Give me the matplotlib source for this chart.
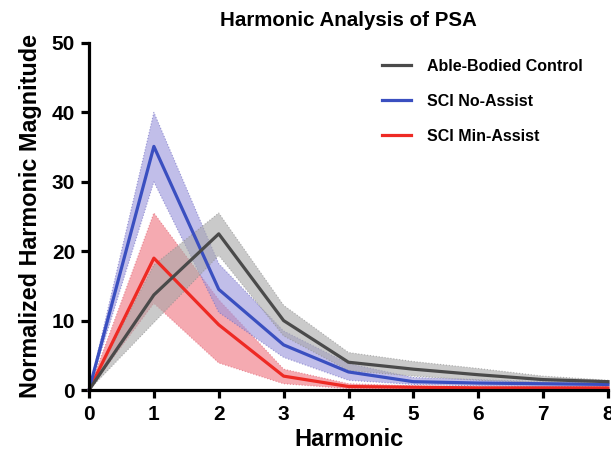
import numpy as np
import matplotlib
matplotlib.use('Agg')
import matplotlib.pyplot as plt

plt.rcParams['font.family'] = ['Liberation Sans', 'DejaVu Sans']
plt.rcParams['font.weight'] = 'bold'

harmonic = [0, 1, 2, 3, 4, 5, 6, 7, 8]

# Able-bodied control
ctrl_mean = [0, 13.7, 22.5, 10.0, 4.0, 3.0, 2.2, 1.5, 1.2]
ctrl_hi = [0, 18.0, 25.5, 12.2, 5.4, 4.1, 3.1, 2.0, 1.4]
ctrl_lo = [0, 9.7, 19.4, 7.8, 2.8, 2.0, 1.4, 1.0, 0.9]

# SCI no-assist
noas_mean = [0, 35.1, 14.5, 6.5, 2.6, 1.2, 1.0, 0.9, 0.8]
noas_hi = [0, 40.0, 18.2, 8.5, 3.8, 1.8, 1.5, 1.2, 1.0]
noas_lo = [0, 30.0, 11.2, 4.7, 1.4, 0.8, 0.6, 0.5, 0.5]

# SCI min-assist
min_mean = [0, 19.0, 9.4, 2.0, 0.5, 0.4, 0.3, 0.3, 0.3]
min_hi = [0, 25.5, 13.0, 3.0, 0.9, 0.6, 0.5, 0.5, 0.4]
min_lo = [0, 12.5, 3.9, 0.9, 0.2, 0.2, 0.1, 0.1, 0.1]

fig = plt.figure(figsize=(6.11, 4.57), dpi=100)
ax = fig.add_axes([89/611, 1 - 390/457, (608 - 89)/611, (390 - 43)/457])

# bands
ax.fill_between(harmonic, min_lo, min_hi, color='#f07d88', alpha=0.65,
                edgecolor='#e06070', linestyle=':', linewidth=0.8, clip_on=False, zorder=1)
ax.fill_between(harmonic, noas_lo, noas_hi, color='#9c96dc', alpha=0.62,
                edgecolor='#6a68c0', linestyle=':', linewidth=0.8, clip_on=False, zorder=2)
ax.fill_between(harmonic, ctrl_lo, ctrl_hi, color='#a8a8a8', alpha=0.6,
                edgecolor='#888888', linestyle=':', linewidth=0.8, clip_on=False, zorder=3)

ax.plot(harmonic, min_mean, color='#ee2a24', lw=2.3, clip_on=False, zorder=4, label='SCI Min-Assist')
ax.plot(harmonic, noas_mean, color='#3a4fc0', lw=2.3, clip_on=False, zorder=5, label='SCI No-Assist')
ax.plot(harmonic, ctrl_mean, color='#4a4a4a', lw=2.3, clip_on=False, zorder=6, label='Able-Bodied Control')

ax.set_xlim(0, 8)
ax.set_ylim(0, 50)
ax.set_xticks(range(0, 9))
ax.set_yticks(range(0, 51, 10))
for s in ['top', 'right']:
    ax.spines[s].set_visible(False)
for s in ['left', 'bottom']:
    ax.spines[s].set_linewidth(2.3)
    ax.spines[s].set_zorder(7)
ax.tick_params(width=2.3, length=6, labelsize=15)
ax.tick_params(axis='x', pad=5)
ax.tick_params(axis='y', pad=4)

ax.set_xlabel('Harmonic', fontsize=17, fontweight='bold', labelpad=3)
ax.set_ylabel('Normalized Harmonic Magnitude', fontsize=16.8, fontweight='bold', labelpad=7)
ax.set_title('Harmonic Analysis of PSA', fontsize=14.8, fontweight='bold', pad=12)

h, l = ax.get_legend_handles_labels()
leg = ax.legend(h[::-1], l[::-1], loc='upper left', bbox_to_anchor=(374/611, 1 - 51/457),
                bbox_transform=fig.transFigure, frameon=False, fontsize=11.5,
                handlelength=1.8, handletextpad=1.0, labelspacing=1.25, borderpad=0)
for t in leg.get_texts():
    t.set_fontweight('bold')

fig.savefig('out.png', dpi=100)
